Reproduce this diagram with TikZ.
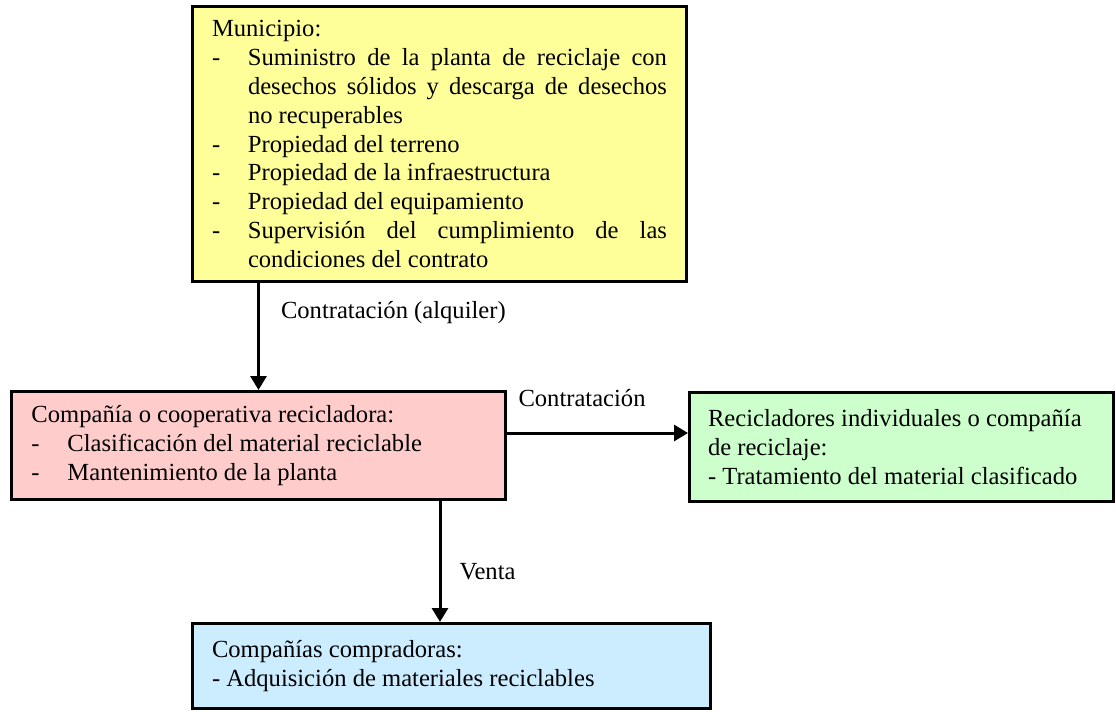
\documentclass[tikz,border=0pt]{standalone}
\usepackage{fontspec}
\setmainfont{Liberation Serif}
\usepackage{tikz}
\usetikzlibrary{positioning, arrows.meta, calc}
\definecolor{boxyellow}{RGB}{255,255,153}
\definecolor{boxrose}{RGB}{255,204,204}
\definecolor{boxgreen}{RGB}{204,255,204}
\definecolor{boxblue}{RGB}{204,236,255}
\setlength{\parindent}{0pt}
\hyphenpenalty=10000
\newcommand{\guion}[1]{\par\noindent\hangindent=18pt\hangafter=1\makebox[18pt][l]{-}#1\par}

\begin{document}
\begin{tikzpicture}[x=0.5pt, y=-0.5pt, >={Triangle[length=7pt,width=8pt]},
        caja/.style={draw, line width=1.5pt, inner sep=0pt, font=\fontsize{12.3pt}{14.4pt}\selectfont},
        flecha/.style={->, line width=1.5pt},
        rotulo/.style={inner sep=0pt, font=\fontsize{12.3pt}{14.4pt}\selectfont}]
      \useasboundingbox (0,0) rectangle (1116,712);
      \node[caja, fill=boxyellow, minimum width=247pt, minimum height=137.5pt,
            text width=227.5pt, align=justify] (muni) at (439.5,144)
            {\noindent Municipio:
             \guion{Suministro de la planta de reciclaje con\linebreak desechos sólidos y descarga de desechos\linebreak no recuperables}
             \guion{Propiedad del terreno}
             \guion{Propiedad de la infraestructura}
             \guion{Propiedad del equipamiento}
             \guion{Supervisión del cumplimiento de las\linebreak condiciones del contrato}};
      \node[caja, fill=boxrose, minimum width=247pt, minimum height=54pt,
            text width=227pt, align=justify] (compania) at (258.5,445.5)
            {\noindent Compañía o cooperativa recicladora:
             \guion{Clasificación del material reciclable}
             \guion{Mantenimiento de la planta}};
      \node[caja, fill=boxgreen, minimum width=212pt, minimum height=54.5pt,
            text width=193.5pt, align=flush left] (reciclador) at (901.5,447)
            {Recicladores individuales o compañía\\ de reciclaje:\\ - Tratamiento del material clasificado};
      \node[caja, fill=boxblue, minimum width=259pt, minimum height=42.5pt,
            text width=239.5pt, align=flush left] (compradoras) at (451.5,666)
            {Compañías compradoras:\\ - Adquisición de materiales reciclables};
      \draw[flecha] (compania.north |- muni.south) -- (compania.north)
            node[rotulo, pos=0, anchor=base west, xshift=10.5pt, yshift=-17.5pt] {Contratación (alquiler)};
      \draw[flecha] ([yshift=6.25pt]compania.east) -- ([yshift=6.25pt]compania.east -| reciclador.west)
            node[rotulo, pos=0, anchor=base west, xshift=5pt, yshift=13.5pt] {Contratación};
      \draw[flecha] ([xshift=-5.75pt]compradoras.north |- compania.south) -- ([xshift=-5.75pt]compradoras.north)
            node[rotulo, pos=0, anchor=base west, xshift=9pt, yshift=-39pt] {Venta};
    \end{tikzpicture}
\end{document}
